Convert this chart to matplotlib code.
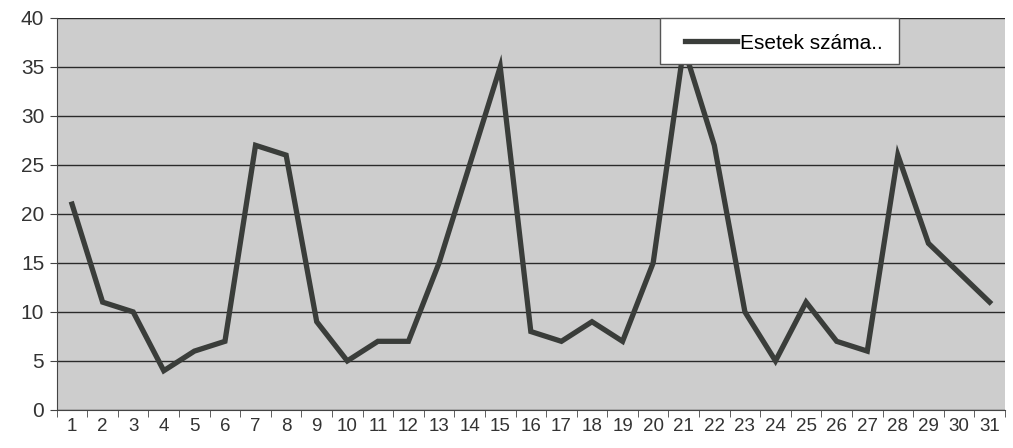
import matplotlib
matplotlib.use("Agg")
import matplotlib.pyplot as plt
import numpy as np
from matplotlib.ticker import FixedLocator
from matplotlib.patches import Rectangle

days = list(range(1, 32))
cases = [21, 11, 10, 4, 6, 7, 27, 26, 9, 5, 7, 7, 15, 25, 35, 8, 7, 9, 7, 15,
         37, 27, 10, 5, 11, 7, 6, 26, 17, 14, 11]
series_label = "Esetek száma.."
y_ticks = [0, 5, 10, 15, 20, 25, 30, 35, 40]

plt.rcParams['font.family'] = ['Liberation Sans', 'DejaVu Sans']

fig = plt.figure(figsize=(10.13, 4.48), dpi=100)
ax = fig.add_axes([0.056, 0.085, 0.936, 0.875])
ax.set_facecolor('#cdcdcd')

ax.set_xlim(0.5, 31.5)
ax.set_ylim(0, 40)
ax.set_yticks(y_ticks)
ax.yaxis.grid(True, color='#2a2a2a', linewidth=1.0)
ax.set_axisbelow(True)

ax.plot(days, cases, color='#3a3d3a', linewidth=3.8, solid_joinstyle='miter',
        label=series_label, zorder=3)

ax.set_xticks(days)
ax.set_xticklabels([str(d) for d in days], fontsize=13.5, color='#333333')
ax.tick_params(axis='x', which='major', length=0, pad=6)
ax.xaxis.set_minor_locator(FixedLocator(np.arange(0.5, 32, 1)))
ax.tick_params(axis='x', which='minor', length=5, direction='out', color='#444444')
ax.tick_params(axis='y', labelsize=15, length=5, color='#444444', labelcolor='#333333', pad=4)

for s in ['top', 'right']:
    ax.spines[s].set_visible(False)
ax.spines['left'].set_color('#444444')
ax.spines['bottom'].set_color('#444444')

# legend frame (white box), drawn above the line
frame = Rectangle((0.636, 0.883), 0.888 - 0.636, 1.0 - 0.883, transform=ax.transAxes,
                  facecolor='white', edgecolor='#555555', linewidth=1.0, zorder=6,
                  clip_on=False)
ax.add_patch(frame)
leg = ax.legend(loc='center left', bbox_to_anchor=(0.6625, 0.936), frameon=False,
                fontsize=15, handlelength=2.5, handletextpad=0.15,
                borderpad=0, borderaxespad=0)
leg.set_zorder(7)

fig.savefig('out.png', dpi=100)
